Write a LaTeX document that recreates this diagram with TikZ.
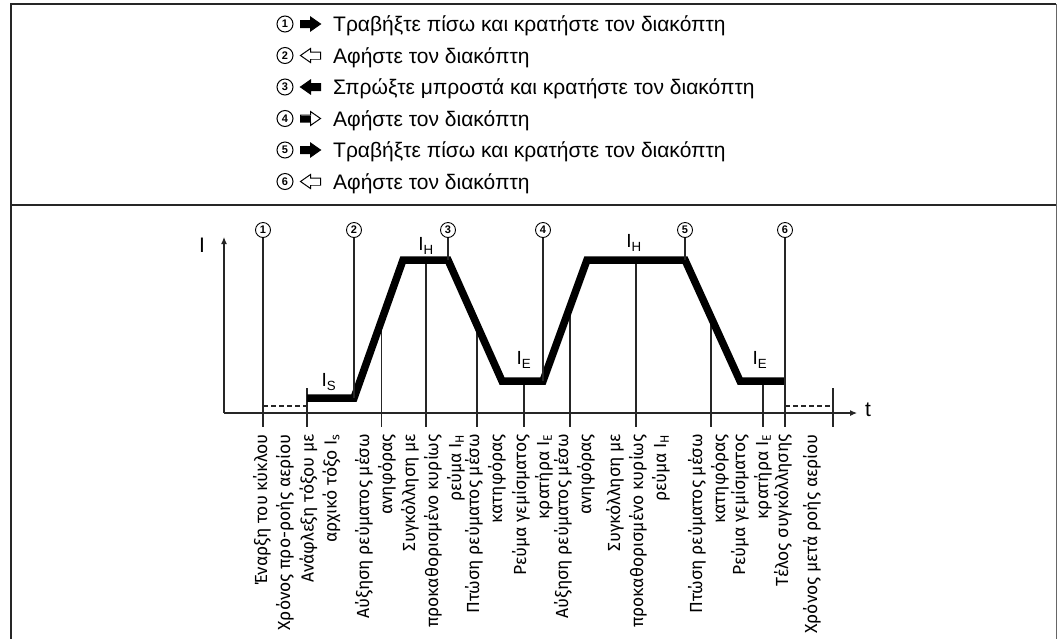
\documentclass[tikz,border=0pt]{standalone}
\usepackage{fontspec}
\setmainfont{Liberation Sans}
\newfontfamily\lblfont{Fira Sans}
\usetikzlibrary{arrows.meta,calc}

\tikzset{
	thinline/.style={line width=1.1pt,black!85},
	curveline/.style={line width=7.5pt,black},
	numcirc/.style={circle,draw,line width=0.9pt,inner sep=0pt,minimum size=15pt,font=\bfseries\fontsize{11}{11}\selectfont},
	legcirc/.style={numcirc,minimum size=16pt,line width=1pt},
	legtext/.style={anchor=base west,inner sep=0pt,font=\fontsize{21}{21}\selectfont},
	axlabel/.style={inner sep=0pt,font=\fontsize{19}{19}\selectfont},
	steplabel/.style={rotate=90,anchor=east,align=right,inner sep=0pt,font=\lblfont\fontsize{17.5}{23}\selectfont},
}

\begin{document}
\begin{tikzpicture}[x=1pt,y=-1pt]
	
	\useasboundingbox (0,0) rectangle (1059,638);
	\clip (0,0) rectangle (1059,638);
	
	% frame
	{
		\draw[line width=2.6pt,black!85] (11,640) -- (11,4) -- (1056,4);
		\draw[line width=2.6pt,black!85] (11,205) -- (1056,205);
		\draw[line width=0.8pt,black!60] (1056,4) -- (1056,640);
	}
	
	% legend
	{
		\foreach \k/\yy/\txt in {1/24/{Τραβήξτε πίσω και κρατήστε τον διακόπτη},
			2/55.5/{Αφήστε τον διακόπτη},
			3/87/{Σπρώξτε μπροστά και κρατήστε τον διακόπτη},
			4/118.5/{Αφήστε τον διακόπτη},
			5/150/{Τραβήξτε πίσω και κρατήστε τον διακόπτη},
			6/181.5/{Αφήστε τον διακόπτη}}
		{
			\node[legcirc] (leg\k) at (285,\yy) {\k};
			\node[legtext] (legtxt\k) at (333,\yy+7.5) {\txt};
		}
		
		\foreach \yy/\dir/\shaftfill/\headfill in {24/1/black/black, 55.5/-1/white/white,
			87/-1/black/black, 118.5/1/black/white, 150/1/black/black, 181.5/-1/white/white}
		{
			\begin{scope}[shift={(310.5,\yy)},xscale=\dir]
				\filldraw[line width=1pt,fill=\headfill] (-10,-3.5) -- (0,-3.5) -- (0,-7) -- (10,0)
				-- (0,7) -- (0,3.5) -- (-10,3.5) -- cycle;
				\fill[\shaftfill] (-9.5,-3) rectangle (0.5,3);
			\end{scope}
		}
	}
	
	% axes
	{
		\coordinate (O) at (224,413);
		\coordinate (base) at (0,427);
		\coordinate (ytop) at (224,237);
		\coordinate (xend) at (857,413);
		\draw[thinline,-{Latex[length=7pt,width=6pt]}] (O) -- (ytop);
		\draw[thinline,-{Latex[length=7pt,width=6pt]}] (O) -- (xend);
		\node[axlabel,font=\fontsize{21}{21}\selectfont] (Ilabel) at (202,245) {I};
		\node[axlabel,font=\fontsize{21}{21}\selectfont] (tlabel) at (868,410) {t};
	}
	
	% current curve
	{
		\coordinate (s0) at (307,398);
		\coordinate (s1) at (354,398);
		\coordinate (h1a) at (403,260);
		\coordinate (h1b) at (448,260);
		\coordinate (e1a) at (502,381);
		\coordinate (e1b) at (543,381);
		\coordinate (h2a) at (587,260);
		\coordinate (h2b) at (685,260);
		\coordinate (e2a) at (740,381);
		\coordinate (e2b) at (785,381);
		
		\coordinate (pre) at (307,388);
		\coordinate (post) at (833,388);
		\coordinate (r1) at ($(s1)!0.5625!(h1a)$);
		\coordinate (m1) at (426,260);
		\coordinate (f1) at ($(h1b)!0.537!(e1a)$);
		\coordinate (c1) at (524,381);
		\coordinate (r2) at ($(e1b)!0.614!(h2a)$);
		\coordinate (m2) at (636,260);
		\coordinate (f2) at ($(h2b)!0.473!(e2a)$);
		\coordinate (c2) at (763,381);
		
		\foreach \p in {pre,r1,m1,f1,c1,r2,m2,f2,c2,post}
		\draw[thinline] (\p) -- (\p |- base);
		
		\draw[thinline,dashed,dash pattern=on 5pt off 3pt] (263,406) -- (307,406);
		\draw[thinline,dashed,dash pattern=on 5pt off 3pt] (785,406) -- (833,406);
		
		\draw[curveline] (s0) -- (s1) -- (h1a) -- (h1b) -- (e1a) -- (e1b) -- (h2a) -- (h2b) -- (e2a) -- (e2b);
		
		\node[axlabel] (IS) at (329,382) {I\textsubscript{S}};
		\node[axlabel] (IH1) at (426,246) {I\textsubscript{H}};
		\node[axlabel] (IE1) at (524,360) {I\textsubscript{E}};
		\node[axlabel] (IH2) at (634,243) {I\textsubscript{H}};
		\node[axlabel] (IE2) at (760,360) {I\textsubscript{E}};
	}
	
	% switch steps
	{
		\node[numcirc] (n1) at (263,230) {1};
		\node[numcirc] (n2) at (354,230) {2};
		\node[numcirc] (n3) at (448,230) {3};
		\node[numcirc] (n4) at (543,230) {4};
		\node[numcirc] (n5) at (685,230) {5};
		\node[numcirc] (n6) at (785,230) {6};
		
		\draw[thinline] (n1) -- (n1 |- base);
		\draw[thinline] (n2) -- (n2 |- s1);
		\draw[thinline] (n3) -- (h1b);
		\draw[thinline] (n4) -- (e1b);
		\draw[thinline] (n5) -- (h2b);
		\draw[thinline] (n6) -- (n6 |- base);
	}
	
	% phase labels
	{
		\foreach \xx/\txt [count=\i] in {262/{Έναρξη του κύκλου},
			285/{Χρόνος προ-ροής αερίου},
			320/{Ανάφλεξη τόξου με\\αρχικό τόξο I\textsubscript{s}},
			375.5/{Αύξηση ρεύματος μέσω\\ανηφόρας},
			433/{Συγκόλληση με\\προκαθορισμένο κυρίως\\ρεύμα I\textsubscript{H}},
			485.5/{Πτώση ρεύματος μέσω\\κατηφόρας},
			532.5/{Ρεύμα γεμίσματος\\κρατήρα I\textsubscript{E}},
			574.5/{Αύξηση ρεύματος μέσω\\ανηφόρας},
			638/{Συγκόλληση με\\προκαθορισμένο κυρίως\\ρεύμα I\textsubscript{H}},
			708.5/{Πτώση ρεύματος μέσω\\κατηφόρας},
			751.5/{Ρεύμα γεμίσματος\\κρατήρα I\textsubscript{E}},
			783/{Τέλος συγκόλλησης},
			812/{Χρόνος μετά ροής αερίου}}
		{
			\node[steplabel] (lbl\i) at (\xx,434) {\txt};
		}
	}
	
\end{tikzpicture}
\end{document}
